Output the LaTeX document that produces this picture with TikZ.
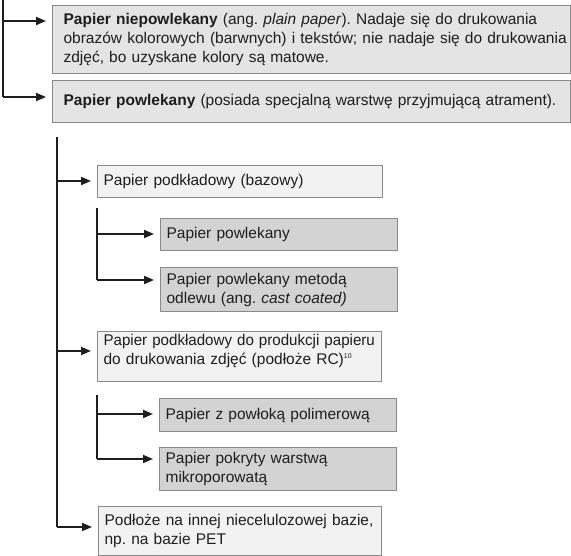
\documentclass[tikz,border=0pt]{standalone}
\usepackage{fontspec}
\usepackage{graphicx}
\setmainfont{Liberation Sans}
\usetikzlibrary{arrows.meta}
\definecolor{fillA}{HTML}{E4E4E4}
\definecolor{fillB}{HTML}{F2F2F2}
\definecolor{fillC}{HTML}{D3D3D3}
\definecolor{edge}{HTML}{8A8A8A}
\definecolor{ink}{HTML}{1E1E1E}
\hyphenpenalty=10000
\exhyphenpenalty=10000
\begin{document}
\frenchspacing
\begin{tikzpicture}[x=1pt,y=-1pt,
  box/.style={draw=edge,line width=1.2pt,anchor=north west,align=left,inner xsep=6pt,inner ysep=0pt,
    font=\fontsize{15.5}{19}\selectfont,text=ink},
  topbox/.style={box,fill=fillA,inner xsep=11pt},
  midbox/.style={box,fill=fillB},
  subbox/.style={box,fill=fillC},
  trunk/.style={draw=ink,line width=1.8pt},
  arr/.style={draw=ink,line width=1.8pt,-{Triangle[length=10pt,width=8pt]},shorten >=6pt}]
\useasboundingbox (0,0) rectangle (571,556);
% top level
\node[topbox,minimum width=518pt,minimum height=68pt,text width=496pt] (n1) at (52,5)
  {\makebox[496pt][s]{\textbf{Papier niepowlekany} (ang. \textit{plain paper}). Nadaje się do drukowania}\\
   \makebox[496pt][s]{obrazów kolorowych (barwnych) i tekstów; nie nadaje się do drukowania}\\
   zdjęć, bo uzyskane kolory są matowe.};
\node[topbox,minimum width=518pt,minimum height=42pt,text width=496pt] (n2) at (52,80)
  {\textbf{Papier powlekany} (posiada specjalną warstwę przyjmującą atrament).};
\coordinate (t0) at (3,0);
\coordinate (t1) at (3,21);
\coordinate (t2) at (3,97);
\draw[trunk] (t0) -- (t2);
\draw[arr] (t1) -- (t1 -| n1.west);
\draw[arr] (t2) -- (t2 -| n2.west);
% second tree
\node[midbox,minimum width=285pt,minimum height=32pt,text width=273pt] (m1) at (97,165)
  {Papier podkładowy (bazowy)};
\node[subbox,minimum width=237pt,minimum height=32pt,text width=225pt] (s1) at (160,218)
  {Papier powlekany};
\node[subbox,minimum width=237pt,minimum height=44pt,text width=225pt] (s2) at (160,267)
  {Papier powlekany metodą\\odlewu (ang. \textit{cast coated)}};
\node[midbox,minimum width=284pt,minimum height=50pt,text width=272pt] (m2) at (97,331)
  {\makebox[272pt][l]{\scalebox{0.975}[1]{Papier podkładowy do produkcji papieru}}\\do drukowania zdjęć (podłoże RC)\textsuperscript{\fontsize{7}{8}\selectfont 10}\\[-4pt]\mbox{}};
\node[subbox,minimum width=237pt,minimum height=33pt,text width=225pt] (s3) at (159,398)
  {Papier z powłoką polimerową};
\node[subbox,minimum width=237pt,minimum height=43pt,text width=225pt] (s4) at (159,447)
  {Papier pokryty warstwą\\mikroporowatą};
\node[midbox,minimum width=283pt,minimum height=49pt,text width=271pt] (m3) at (98,506)
  {Podłoże na innej niecelulozowej bazie,\\np. na bazie PET};
\coordinate (u0) at (57,137);
\coordinate (u1) at (57,181);
\coordinate (u2) at (57,351);
\coordinate (u3) at (57,527);
\draw[trunk] (u0) -- (u3);
\draw[arr] (u1) -- (u1 -| m1.west);
\draw[arr] (u2) -- (u2 -| m2.west);
\draw[arr] (u3) -- (u3 -| m3.west);
\coordinate (v0) at (97,208);
\coordinate (v1) at (97,234);
\coordinate (v2) at (97,280);
\draw[trunk] (v0) -- (v2);
\draw[arr] (v1) -- (v1 -| s1.west);
\draw[arr] (v2) -- (v2 -| s2.west);
\coordinate (w0) at (97,395);
\coordinate (w1) at (97,414);
\coordinate (w2) at (97,459);
\draw[trunk] (w0) -- (w2);
\draw[arr] (w1) -- (w1 -| s3.west);
\draw[arr] (w2) -- (w2 -| s4.west);
\end{tikzpicture}
\end{document}
